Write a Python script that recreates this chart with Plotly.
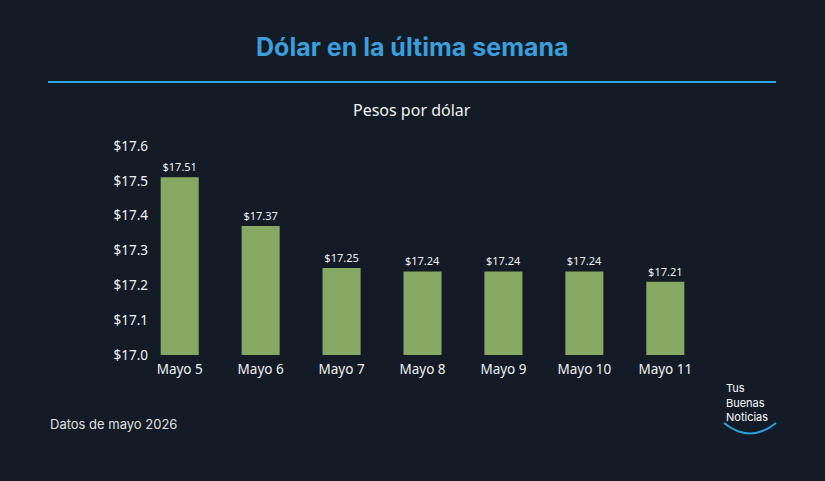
import plotly.graph_objects as go

categories = ["Mayo 5", "Mayo 6", "Mayo 7", "Mayo 8", "Mayo 9", "Mayo 10", "Mayo 11"]
values = [17.51, 17.37, 17.25, 17.24, 17.24, 17.24, 17.21]
labels = ["$17.51", "$17.37", "$17.25", "$17.24", "$17.24", "$17.24", "$17.21"]
yticks = [17.0, 17.1, 17.2, 17.3, 17.4, 17.5, 17.6]
yticklabels = ["$17.0", "$17.1", "$17.2", "$17.3", "$17.4", "$17.5", "$17.6"]
logo_lines = ["Tus", "Buenas", "Noticias"]

W, H = 825, 481
L, R, T, B = 153, 692, 146, 355

def px(x):
    return (x - L) / (R - L)

def py(y):
    return (B - y) / (B - T)

BG = "#131b27"
fig = go.Figure(go.Bar(
    x=categories, y=values, text=labels, textposition="outside",
    textfont=dict(color="#f2f2f2", size=11, family="Noto Sans"),
    marker=dict(color="#87a863", line=dict(width=0)),
    cliponaxis=False, hoverinfo="skip",
))

annotations = [
    dict(text="<b>Dólar en la última semana</b>", xref="paper", yref="paper",
         x=px(412), y=py(47), showarrow=False, xanchor="center", yanchor="middle",
         font=dict(size=25, color="#3a9fdb", family="Inter")),
    dict(text="Pesos por dólar", xref="paper", yref="paper",
         x=px(412), y=py(110), showarrow=False, xanchor="center", yanchor="middle",
         font=dict(size=16, color="#f2f2f2")),
    dict(text="Datos de mayo 2026", xref="paper", yref="paper",
         x=px(48), y=py(424), showarrow=False, xanchor="left", yanchor="middle",
         font=dict(size=13, color="#e0e0e0", family="Inter")),
]
for i, t in enumerate(logo_lines):
    annotations.append(dict(text=t, xref="paper", yref="paper",
                            x=px(725), y=py(388 + 14.6 * i), showarrow=False,
                            xanchor="left", yanchor="middle", align="left",
                            borderpad=0,
                            font=dict(size=11, color="#ffffff", family="Inter")))

fig.update_layout(
    width=W, height=H,
    paper_bgcolor=BG, plot_bgcolor=BG,
    margin=dict(l=L, r=W - R, t=T, b=H - B),
    bargap=0.53,
    showlegend=False,
    font=dict(family="Noto Sans", color="#e8e8e8"),
    xaxis=dict(range=[-0.33, 6.33], showgrid=False, zeroline=False, showline=False,
               tickfont=dict(size=13.5, color="#f2f2f2"), ticks="", fixedrange=True,
               ticklabelstandoff=4),
    yaxis=dict(range=[17.0, 17.6], tickvals=yticks, ticktext=yticklabels,
               showgrid=False, zeroline=False, showline=False, ticks="",
               tickfont=dict(size=13.5, color="#f2f2f2"), fixedrange=True,
               ticklabelstandoff=4),
    shapes=[
        dict(type="line", xref="paper", yref="paper", x0=px(48), x1=px(776),
             y0=py(82), y1=py(82), line=dict(color="#2aa6dd", width=2)),
        dict(type="path", xref="paper", yref="paper",
             path=f"M {px(724)},{py(423)} Q {px(750)},{py(444)} {px(776)},{py(423)}",
             line=dict(color="#2a9fd6", width=2)),
    ],
    annotations=annotations,
)

fig.write_html("out.html")
